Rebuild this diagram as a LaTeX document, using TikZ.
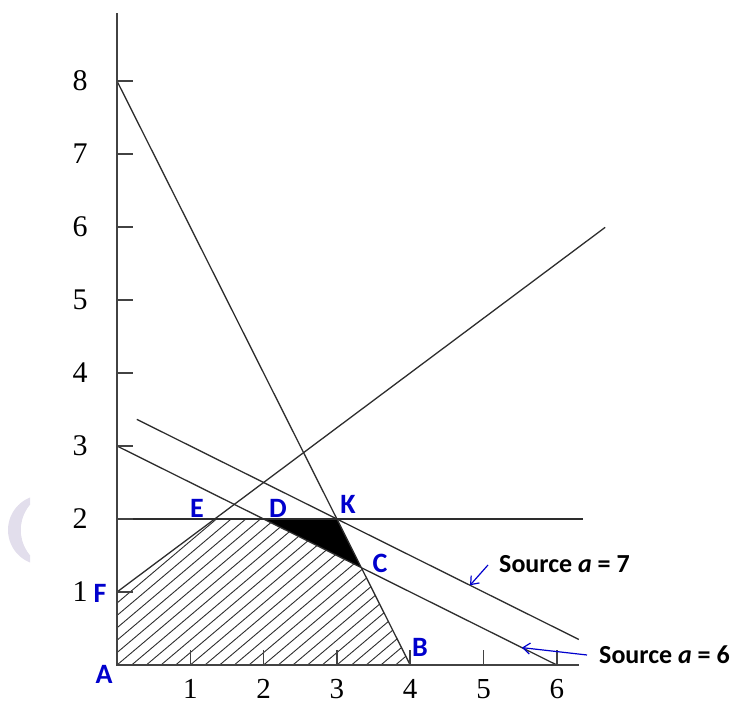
\documentclass[tikz,border=0pt]{standalone}
\usepackage{fontspec}
\setmainfont{Liberation Serif}
\newfontfamily\labfont{Carlito}
\usetikzlibrary{arrows.meta}
\definecolor{lblue}{RGB}{0,0,205}
\definecolor{wm}{RGB}{226,222,236}
\definecolor{ink}{RGB}{45,45,45}
\tikzset{
  axisline/.style={draw=ink!90!white, line width=2pt},
  plotline/.style={draw=ink, line width=1.3pt},
  hatchline/.style={draw=ink, line width=0.9pt},
  tickmark/.style={draw=ink!90!white, line width=1.6pt},
  num/.style={font=\fontsize{30}{32}\selectfont, text=black, inner sep=0pt},
  xnum/.style={font=\fontsize{29}{31}\selectfont, text=black, inner sep=0pt},
  ptlabel/.style={font=\labfont\bfseries\fontsize{28}{32}\selectfont, text=lblue, inner sep=0pt},
  srclabel/.style={font=\labfont\bfseries\fontsize{26}{30}\selectfont, text=black, inner sep=0pt, anchor=west},
  srcarrow/.style={draw=lblue, line width=1.2pt, -{Straight Barb[length=7pt,width=11pt,line width=1.2pt]}}
}
\begin{document}
\begin{tikzpicture}[x=1pt,y=1pt]
\useasboundingbox (0,0) rectangle (734,706);
% faint watermark crescent
\begin{scope}
  \clip (0,0) rectangle (30,706);
  \fill[wm, even odd rule] (43,176) circle (35) (60,176) circle (39);
  \fill[white] (60,176) circle (39);
\end{scope}

\begin{scope}[shift={(117,41)}, x=73.3pt, y=73pt]
  % key points
  \coordinate (A) at (0,0);
  \coordinate (F) at (0,1);
  \coordinate (E) at (4/3,2);
  \coordinate (D) at (2,2);
  \coordinate (K) at (3,2);
  \coordinate (C) at (10/3,4/3);
  \coordinate (B) at (4,0);
  % hatched feasible region
  \begin{scope}
    \clip (A) -- (F) -- (E) -- (D) -- (C) -- (B) -- cycle;
    \foreach \s in {-6,-5.8,...,4.2}
      \draw[hatchline] (\s,0) -- ++(6,5.09);
  \end{scope}
  % black triangle
  \fill[black] (D) -- (K) -- (C) -- cycle;
  % constraint lines
  \coordinate (L1a) at (0,8);
  \draw[plotline] (L1a) -- (B);
  \coordinate (L2b) at (6.66,5.995);
  \draw[plotline] (F) -- (L2b);
  \coordinate (L3a) at (0,3);
  \coordinate (L3b) at (6,0);
  \draw[plotline] (L3a) -- (L3b);
  \coordinate (L4a) at (0.27,3.365);
  \coordinate (L4b) at (6.3,0.35);
  \draw[plotline] (L4a) -- (L4b);
  \coordinate (H0) at (0,2);
  \coordinate (H1) at (6.36,2);
  \draw[plotline] (H0) -- (H1);
  % axes
  \coordinate (Ytop) at (0,8.93);
  \coordinate (Xend) at (6.3,0);
  \draw[axisline] (Ytop) -- (A) -- (Xend);
  % ticks and numbers
  \foreach \k in {1,...,8} {
    \draw[tickmark] (0,\k) -- ++(16pt,0);
    \node[num] (ny\k) at ([xshift=-37pt]0,\k) {\k};
  }
  \foreach \k in {1,...,6} {
    \draw[tickmark] (\k,0) -- ++(0,15pt);
    \node[xnum] (nx\k) at ([yshift=-24pt]\k,0) {\k};
  }
  % arrow targets on the source lines
  \coordinate (T7) at (4.816,1.092);
  \coordinate (T6) at (5.525,0.238);
\end{scope}

% point labels
\node[ptlabel] (lE) at (197,198) {E};
\node[ptlabel] (lD) at (278,198) {D};
\node[ptlabel] (lK) at (348,202) {K};
\node[ptlabel] (lC) at (380,143) {C};
\node[ptlabel] (lB) at (420,59) {B};
\node[ptlabel] (lF) at (100,113) {F};
\node[ptlabel] (lA) at (104,32) {A};

% source labels and arrows
\node[srclabel] (s7) at (499,142) {Source \textit{a} = 7};
\node[srclabel] (s6) at (599,51) {Source \textit{a} = 6};
\coordinate (a7) at (488,141);
\coordinate (a6) at (587,51);
\draw[srcarrow] (a7) -- (T7);
\draw[srcarrow] (a6) -- (T6);
\end{tikzpicture}
\end{document}
